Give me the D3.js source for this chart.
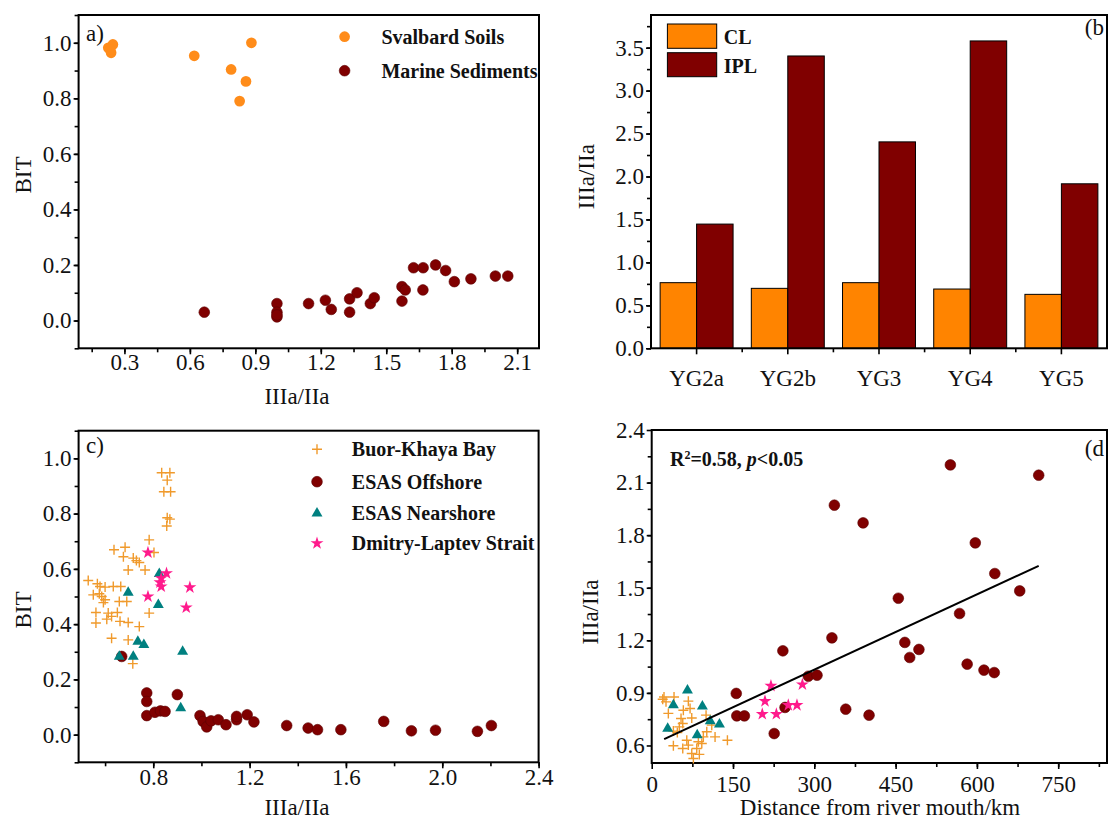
<!DOCTYPE html>
<html><head><meta charset="utf-8">
<script src="https://cdn.jsdelivr.net/npm/d3@7"></script>
<style>
body{margin:0;background:#fff}
svg{display:block}
text{font-family:"Liberation Serif","Times New Roman",serif;fill:#111}
</style>
</head><body>
<svg id="chart" width="1112" height="823"></svg>
<script>
// ---------------- DATA ----------------
// Panel a: [IIIa/IIa, BIT]
const svalbardSoils = [[0.226,0.982],[0.247,0.994],[0.239,0.964],[0.235,0.975],[0.62,0.953],[0.789,0.904],[0.882,1.0],[0.857,0.861],[0.828,0.79]];
const marineSediments = [[0.666,0.03],[0.999,0.061],[0.999,0.03],[0.999,0.013],[0.999,0.02],[1.144,0.061],[1.221,0.073],[1.248,0.04],[1.332,0.078],[1.366,0.1],[1.332,0.03],[1.427,0.061],[1.445,0.082],[1.572,0.07],[1.572,0.122],[1.587,0.11],[1.668,0.11],[1.625,0.19],[1.669,0.19],[1.726,0.2],[1.772,0.18],[1.812,0.14],[1.888,0.15],[2.0,0.16],[2.057,0.16]];

// Panel b
const barCategories = ["YG2a","YG2b","YG3","YG4","YG5"];
const clValues = [0.764,0.698,0.764,0.69,0.628];
const iplValues = [1.446,3.403,2.403,3.578,1.915];

// Panel c: [IIIa/IIa, BIT]
const buorKhayaC = [[0.835,0.948],[0.869,0.948],[0.858,0.921],[0.844,0.879],[0.872,0.879],[0.858,0.785],[0.869,0.78],[0.856,0.755],[0.783,0.705],[0.637,0.669],[0.683,0.678],[0.676,0.644],[0.717,0.639],[0.742,0.623],[0.803,0.659],[0.696,0.596],[0.766,0.596],[0.53,0.558],[0.568,0.546],[0.579,0.536],[0.6,0.534],[0.634,0.536],[0.665,0.536],[0.551,0.506],[0.586,0.5],[0.6,0.488],[0.593,0.478],[0.659,0.482],[0.69,0.482],[0.562,0.442],[0.613,0.44],[0.651,0.442],[0.562,0.404],[0.607,0.418],[0.627,0.428],[0.662,0.41],[0.696,0.406],[0.742,0.391],[0.783,0.44],[0.627,0.349],[0.696,0.343],[0.715,0.257],[0.576,0.51],[0.73,0.63]];
const esasOffshoreC = [[0.669,0.283],[0.773,0.151],[0.773,0.12],[0.773,0.069],[0.807,0.081],[0.83,0.086],[0.849,0.084],[0.9,0.145],[0.994,0.069],[1.007,0.048],[1.022,0.028],[1.04,0.05],[1.07,0.054],[1.102,0.036],[1.146,0.054],[1.146,0.066],[1.19,0.072],[1.218,0.046],[1.354,0.033],[1.443,0.024],[1.482,0.018],[1.579,0.018],[1.757,0.048],[1.872,0.014],[1.972,0.016],[2.146,0.012],[2.204,0.033]];
const esasNearshoreC = [[0.659,0.283],[0.696,0.514],[0.717,0.283],[0.736,0.337],[0.761,0.325],[0.825,0.582],[0.821,0.47],[0.922,0.301],[0.914,0.096]];
const dmitryLaptevC = [[0.778,0.659],[0.778,0.5],[0.833,0.566],[0.833,0.536],[0.855,0.584],[0.952,0.533],[0.937,0.46],[0.828,0.551]];

// Panel d: [distance km, IIIa/IIa]
const buorKhayaD = [[22.7,0.877],[26.4,0.849],[20.3,0.864],[41.2,0.877],[30.7,0.783],[67.6,0.853],[70.8,0.811],[54.1,0.754],[57.3,0.725],[73.9,0.757],[51,0.706],[40,0.682],[47.3,0.674],[100.3,0.773],[101.6,0.678],[110.8,0.716],[116.9,0.649],[95.3,0.649],[139.7,0.63],[40,0.598],[57.3,0.583],[67.6,0.602],[73.9,0.554],[83.1,0.583],[76.9,0.526],[87.9,0.549],[92.4,0.611],[64.7,0.63],[86.1,0.621],[58.4,0.801]];
const esasOffshoreD = [[551,2.201],[714,2.142],[337,1.971],[390,1.87],[597,1.756],[633,1.581],[679,1.482],[455,1.44],[568,1.353],[332.5,1.214],[467,1.188],[493,1.148],[242,1.14],[476,1.102],[582,1.064],[613,1.03],[632,1.016],[289,0.995],[305,1.001],[156,0.897],[157,0.769],[171,0.769],[358,0.807],[401,0.773],[226,0.668],[246,0.817]];
const esasNearshoreD = [[66,0.915],[40,0.83],[93.5,0.824],[108,0.739],[125,0.72],[29.5,0.697],[84,0.659]];
const dmitryLaptevD = [[204,0.779],[230,0.779],[220,0.94],[252,0.83],[268,0.83],[278,0.948],[209,0.853]];
const fitDistance = [23, 714];
const fitRatio = [0.636, 1.625];

// Tick labels
const aXTicks = [0.3,0.6,0.9,1.2,1.5,1.8,2.1];
const bitTicks = [0.0,0.2,0.4,0.6,0.8,1.0];
const bYTicks = [0.0,0.5,1.0,1.5,2.0,2.5,3.0,3.5];
const cXTicks = [0.8,1.2,1.6,2.0,2.4];
const dXTicks = [0,150,300,450,600,750];
const dYTicks = [0.6,0.9,1.2,1.5,1.8,2.1,2.4];

// ---------------- STYLE ----------------
const C = {orange:"#ff8c1a", darkred:"#800000", teal:"#008080", pink:"#ff1a8c", cross:"#f09a2c", cl:"#ff8400", ipl:"#800000"};
const FS = 23, LFS = 20;

const svg = d3.select("#chart");

function frame(box){
  svg.append("rect").attr("x",box.l).attr("y",box.t).attr("width",box.r-box.l).attr("height",box.b-box.t)
    .attr("fill","none").attr("stroke","#000").attr("stroke-width",2);
}
function styleAxis(sel){
  sel.select(".domain").remove();
  sel.selectAll("line").attr("stroke","#000").attr("stroke-width",1.6);
  sel.selectAll("text").style("font-size",FS+"px").attr("fill","#111").style("font-family",'"Liberation Serif","Times New Roman",serif');
}
function xAxis(box, scale, major, minor, fmt, pad){
  svg.append("g").attr("transform",`translate(0,${box.b})`)
    .call(d3.axisBottom(scale).tickValues(minor).tickSize(4).tickFormat("")).call(styleAxis);
  svg.append("g").attr("transform",`translate(0,${box.b})`)
    .call(d3.axisBottom(scale).tickValues(major).tickSize(6).tickPadding(pad).tickFormat(fmt)).call(styleAxis);
}
function yAxis(box, scale, major, minor, fmt){
  svg.append("g").attr("transform",`translate(${box.l},0)`)
    .call(d3.axisLeft(scale).tickValues(minor).tickSize(4).tickFormat("")).call(styleAxis);
  svg.append("g").attr("transform",`translate(${box.l},0)`)
    .call(d3.axisLeft(scale).tickValues(major).tickSize(5).tickPadding(2).tickFormat(fmt)).call(styleAxis);
}
function label(x,y,txt,opts={}){
  const t = svg.append("text").attr("x",x).attr("y",y).attr("dy","0.35em")
    .style("font-size",(opts.size||FS)+"px").attr("text-anchor",opts.anchor||"start")
    .style("font-weight",opts.bold?"bold":"normal").text(txt);
  if(opts.rotate) t.attr("transform",`rotate(-90,${x},${y})`);
  return t;
}
const sym = {
  circle: d3.symbol().type(d3.symbolCircle).size(90)(),
  tri: d3.symbol().type(d3.symbolTriangle).size(52)(),
  star: d3.symbol().type(d3.symbolStar).size(52)(),
  cross: "M-5,0H5M0,-5V5"
};
function points(data, xs, ys, kind, color){
  const g = svg.append("g");
  g.selectAll("path").data(data).join("path")
    .attr("transform",d=>`translate(${xs(d[0])},${ys(d[1])})`)
    .attr("d",sym[kind])
    .attr("fill",kind==="cross"?"none":color)
    .attr("stroke",kind==="cross"?color:(color===C.darkred?"#5a0000":"none"))
    .attr("stroke-width",kind==="cross"?1.4:0.6);
}
function legendMarker(x,y,kind,color){
  points([[0,0]], ()=>x, ()=>y, kind, color);
}
const f1 = d3.format(".1f");

// ---------------- PANEL A ----------------
const boxA = {l:78.6, r:539, t:15, b:348.3};
const xA = d3.scaleLinear().domain([0.09,2.2]).range([boxA.l,boxA.r]);
const yA = d3.scaleLinear().domain([-0.1,1.1]).range([boxA.b,boxA.t]);
xAxis(boxA, xA, aXTicks, d3.range(0.15,2.2,0.15), f1, -1);
yAxis(boxA, yA, bitTicks, d3.range(-0.1,1.11,0.1), f1);
frame(boxA);
points(svalbardSoils, xA, yA, "circle", C.orange);
points(marineSediments, xA, yA, "circle", C.darkred);
label(86,33,"a)");
legendMarker(344.6,36.7,"circle",C.orange);
label(381.4,36.7,"Svalbard Soils",{bold:true,size:LFS});
legendMarker(344.6,70.7,"circle",C.darkred);
label(381.4,70.7,"Marine Sediments",{bold:true,size:LFS});
label(297,396,"IIIa/IIa",{anchor:"middle"});
label(23,175,"BIT",{anchor:"middle",rotate:true});

// ---------------- PANEL B ----------------
const boxB = {l:651, r:1107, t:15, b:348.3};
const xB = d3.scaleBand().domain(barCategories).range([boxB.l,boxB.r]).padding(0);
const xSub = d3.scaleBand().domain(["CL","IPL"]).range([0,xB.bandwidth()]).paddingInner(0).paddingOuter(0.25);
const yB = d3.scaleLinear().domain([0,3.88]).range([boxB.b,boxB.t]);
yAxis(boxB, yB, bYTicks, d3.range(0,3.8,0.25), f1);
svg.append("g").attr("transform",`translate(0,${boxB.b})`)
  .call(d3.axisBottom(xB).tickSize(6).tickPadding(15)).call(styleAxis);
svg.append("g").selectAll("line").data(barCategories.slice(1)).join("line")
  .attr("x1",d=>xB(d)).attr("x2",d=>xB(d)).attr("y1",boxB.b).attr("y2",boxB.b+4)
  .attr("stroke","#000").attr("stroke-width",1.6);
const barData = barCategories.map((c,i)=>({c, CL:clValues[i], IPL:iplValues[i]}));
const bg = svg.append("g");
["CL","IPL"].forEach(k=>{
  bg.selectAll("rect."+k).data(barData).join("rect").attr("class",k)
    .attr("x",d=>xB(d.c)+xSub(k)).attr("width",xSub.bandwidth())
    .attr("y",d=>yB(d[k])).attr("height",d=>yB(0)-yB(d[k]))
    .attr("fill",k==="CL"?C.cl:C.ipl).attr("stroke","#000").attr("stroke-width",1);
});
frame(boxB);
svg.append("rect").attr("x",667.4).attr("y",24).attr("width",49.3).attr("height",24.3).attr("fill",C.cl).attr("stroke","#000").attr("stroke-width",1);
svg.append("rect").attr("x",667.4).attr("y",52.7).attr("width",49.3).attr("height",24).attr("fill",C.ipl).attr("stroke","#000").attr("stroke-width",1);
label(723.7,36.7,"CL",{bold:true,size:LFS});
label(723.7,65.5,"IPL",{bold:true,size:LFS});
label(1104,27.3,"(b",{anchor:"end"});
label(586.4,176.7,"IIIa/IIa",{anchor:"middle",rotate:true});

// ---------------- PANEL C ----------------
const boxC = {l:78.6, r:538.6, t:430.7, b:762.3};
const xC = d3.scaleLinear().domain([0.49,2.4]).range([boxC.l,boxC.r]);
const yC = d3.scaleLinear().domain([-0.1,1.1]).range([boxC.b,boxC.t]);
xAxis(boxC, xC, cXTicks, d3.range(0.6,2.41,0.2), f1, 0);
yAxis(boxC, yC, bitTicks, d3.range(-0.1,1.11,0.1), f1);
frame(boxC);
points(buorKhayaC, xC, yC, "cross", C.cross);
points(esasOffshoreC, xC, yC, "circle", C.darkred);
points(esasNearshoreC, xC, yC, "tri", C.teal);
points(dmitryLaptevC, xC, yC, "star", C.pink);
label(86,445,"c)");
legendMarker(317,449.3,"cross",C.cross);
label(351.8,449.3,"Buor-Khaya Bay",{bold:true,size:LFS});
legendMarker(317,481.7,"circle",C.darkred);
label(351.8,481.7,"ESAS Offshore",{bold:true,size:LFS});
legendMarker(317,513.3,"tri",C.teal);
label(351.8,513.3,"ESAS Nearshore",{bold:true,size:LFS});
legendMarker(317,543.3,"star",C.pink);
label(351.8,543.3,"Dmitry-Laptev Strait",{bold:true,size:LFS});
label(297,807,"IIIa/IIa",{anchor:"middle"});
label(23,610,"BIT",{anchor:"middle",rotate:true});

// ---------------- PANEL D ----------------
const boxD = {l:651.7, r:1107, t:430, b:763};
const xD = d3.scaleLinear().domain([0,840]).range([boxD.l,boxD.r]);
const yD = d3.scaleLinear().domain([0.5,2.4]).range([boxD.b,boxD.t]);
xAxis(boxD, xD, dXTicks, d3.range(75,840,75), d3.format("d"), 7);
yAxis(boxD, yD, dYTicks, d3.range(0.75,2.4,0.15), f1);
frame(boxD);
points(buorKhayaD, xD, yD, "cross", C.cross);
points(esasNearshoreD, xD, yD, "tri", C.teal);
points(esasOffshoreD, xD, yD, "circle", C.darkred);
points(dmitryLaptevD, xD, yD, "star", C.pink);
svg.append("path").datum(fitDistance.map((d,i)=>[d,fitRatio[i]]))
  .attr("d",d3.line().x(d=>xD(d[0])).y(d=>yD(d[1])))
  .attr("stroke","#000").attr("stroke-width",2).attr("fill","none");
const rt = svg.append("text").attr("x",670).attr("y",459).attr("dy","0.35em")
  .style("font-size",LFS+"px").style("font-weight","bold");
rt.append("tspan").text("R");
rt.append("tspan").text("2").attr("baseline-shift","super").style("font-size","12px");
rt.append("tspan").text("=0.58, ");
rt.append("tspan").text("p").style("font-style","italic");
rt.append("tspan").text("<0.05");
label(1104,448,"(d",{anchor:"end"});
label(880,807,"Distance from river mouth/km",{anchor:"middle"});
label(590,612,"IIIa/IIa",{anchor:"middle",rotate:true});
</script>
</body></html>
